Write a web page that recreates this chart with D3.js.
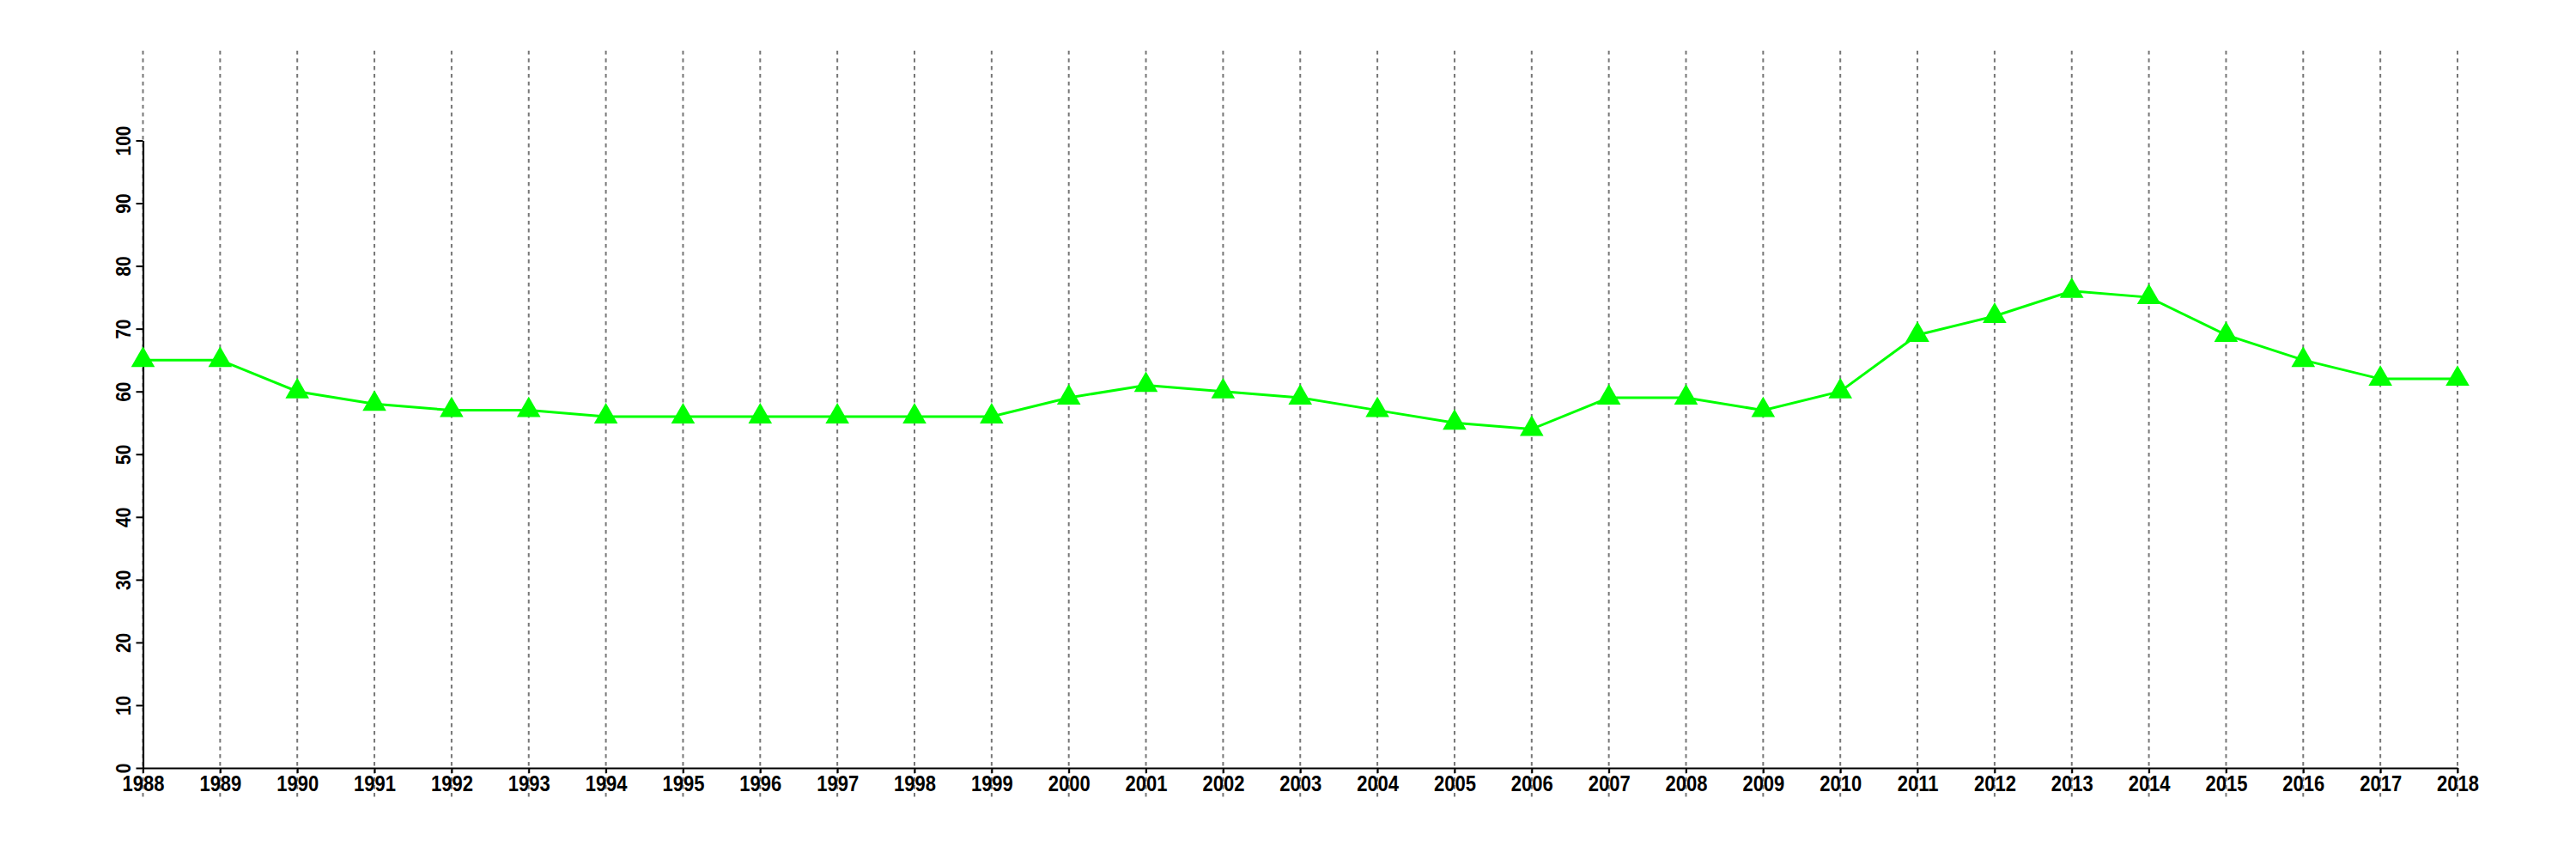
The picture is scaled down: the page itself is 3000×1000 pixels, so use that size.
<!DOCTYPE html>
<html><head><meta charset="utf-8">
<script src="https://cdn.jsdelivr.net/npm/d3@7"></script>
<style>body{margin:0;background:#fff}svg{display:block}</style>
</head><body>
<script>
const years = d3.range(1988, 2019);
const values = [65,65,60,58,57,57,56,56,56,56,56,56,59,61,60,59,57,55,54,59,59,57,60,69,72,76,75,69,65,62,62];
const yTicks = [0,10,20,30,40,50,60,70,80,90,100];

const W = 3000, H = 1000;
const svg = d3.select("body").append("svg").attr("width", W).attr("height", H);
const x = d3.scaleLinear().domain([1988, 2018]).range([166.5, 2862]);
const y = d3.scaleLinear().domain([0, 100]).range([894, 163.5]);
const font = "'Liberation Sans', Arial, sans-serif";

// vertical dashed grid
svg.append("g").selectAll("line").data(years).join("line")
  .attr("x1", d => x(d)).attr("x2", d => x(d))
  .attr("y1", 59).attr("y2", 928)
  .attr("stroke", "#777").attr("stroke-width", 2).attr("stroke-dasharray", "4.5,4.5");

// x axis
const xa = svg.append("g").attr("transform", `translate(0,${y(0)})`)
  .call(d3.axisBottom(x).tickValues(years).tickFormat(d3.format("d")).tickSize(6).tickSizeOuter(0));
xa.select(".domain").attr("stroke", "#000").attr("stroke-width", 2.2);
xa.selectAll(".tick line").attr("stroke", "#000").attr("stroke-width", 2);
xa.selectAll(".tick text").attr("y", 0).attr("dy", null)
  .attr("font-family", font).attr("font-weight", "bold").attr("font-size", 22).attr("fill", "#000")
  .attr("transform", "translate(0,27) scale(1,1.14)");

// y axis
const ya = svg.append("g").attr("transform", `translate(${x(1988)},0)`)
  .call(d3.axisLeft(y).tickValues(yTicks).tickSize(8).tickSizeOuter(0));
ya.select(".domain").attr("stroke", "#000").attr("stroke-width", 2.2);
ya.selectAll(".tick line").attr("stroke", "#000").attr("stroke-width", 2);
ya.selectAll(".tick text").attr("x", 0).attr("dy", null).attr("y", 0)
  .attr("font-family", font).attr("font-weight", "bold").attr("font-size", 21).attr("fill", "#000")
  .attr("text-anchor", "middle")
  .attr("transform", "translate(-14.5,0) rotate(-90) scale(1,1.14)");

// line
const pts = years.map((yr, i) => [yr, values[i]]);
svg.append("path").datum(pts)
  .attr("fill", "none").attr("stroke", "#00ff00").attr("stroke-width", 3)
  .attr("d", d3.line().x(d => x(d[0])).y(d => y(d[1])));

// markers
svg.append("g").selectAll("path").data(pts).join("path")
  .attr("transform", d => `translate(${x(d[0])},${y(d[1])})`)
  .attr("d", d3.symbol(d3.symbolTriangle, 330))
  .attr("fill", "#00ff00");
</script>
</body></html>
